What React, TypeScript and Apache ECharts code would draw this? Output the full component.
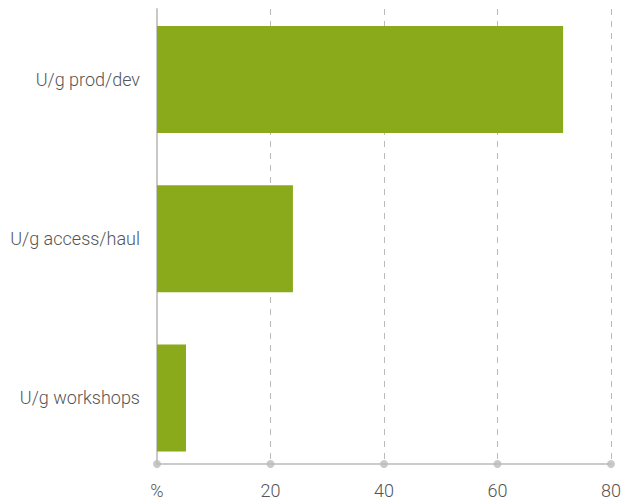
import React, { useEffect, useRef } from "react";
import * as echarts from "echarts";

const categories = ["U/g prod/dev", "U/g access/haul", "U/g workshops"];
const values = [71.4, 23.9, 5.1];
const xTicks = [0, 20, 40, 60, 80];
const xTickLabels: Record<number, string> = { 0: "%", 20: "20", 40: "40", 60: "60", 80: "80" };

export default function App() {
  const ref = useRef<HTMLDivElement>(null);
  useEffect(() => {
    if (!ref.current) return;
    const chart = echarts.init(ref.current, null, { renderer: "svg" });
    const font = { fontFamily: "Roboto", fontWeight: 300 as any, fontSize: 18, color: "#555" };
    chart.setOption({
      animation: false,
      grid: [
        { left: 157, top: 9, width: 455, height: 455, containLabel: false },
        { left: 157, top: -2.5, width: 455, height: 480, containLabel: false },
      ],
      xAxis: [
        {
          gridIndex: 0,
          type: "value",
          min: 0,
          max: 80,
          interval: 20,
          axisLine: { show: true, lineStyle: { color: "#bbb", width: 1.5 } },
          axisTick: { show: false },
          splitLine: { show: true, lineStyle: { color: "#bbb", type: [6, 6], width: 1 } },
          axisLabel: {
            ...font,
            margin: 17,
            formatter: (v: number) => xTickLabels[v] ?? String(v),
          },
        },
        {
          gridIndex: 1,
          type: "value",
          min: 0,
          max: 80,
          show: false,
        },
      ],
      yAxis: [
        {
          gridIndex: 0,
          type: "value",
          min: 0,
          max: 1,
          axisLine: { show: true, lineStyle: { color: "#c8c8c8", width: 2 } },
          axisTick: { show: false },
          axisLabel: { show: false },
          splitLine: { show: false },
        },
        {
          gridIndex: 1,
          type: "category",
          data: categories,
          inverse: true,
          axisLine: { show: false },
          axisTick: { show: false },
          splitLine: { show: false },
          axisLabel: { ...font, margin: 17 },
        },
      ],
      series: [
        {
          type: "bar",
          xAxisIndex: 1,
          yAxisIndex: 1,
          data: values,
          barWidth: 107,
          itemStyle: { color: "#8aaa1c" },
          z: 3,
        },
        {
          type: "scatter",
          xAxisIndex: 0,
          yAxisIndex: 0,
          data: xTicks.map((t) => [t, 0]),
          symbol: "circle",
          symbolSize: 8,
          itemStyle: { color: "#bbb" },
          clip: false,
          silent: true,
          z: 5,
        },
      ],
    });
    return () => chart.dispose();
  }, []);
  return <div ref={ref} style={{ width: 624, height: 499, position: "absolute", left: 0, top: 0 }} />;
}
